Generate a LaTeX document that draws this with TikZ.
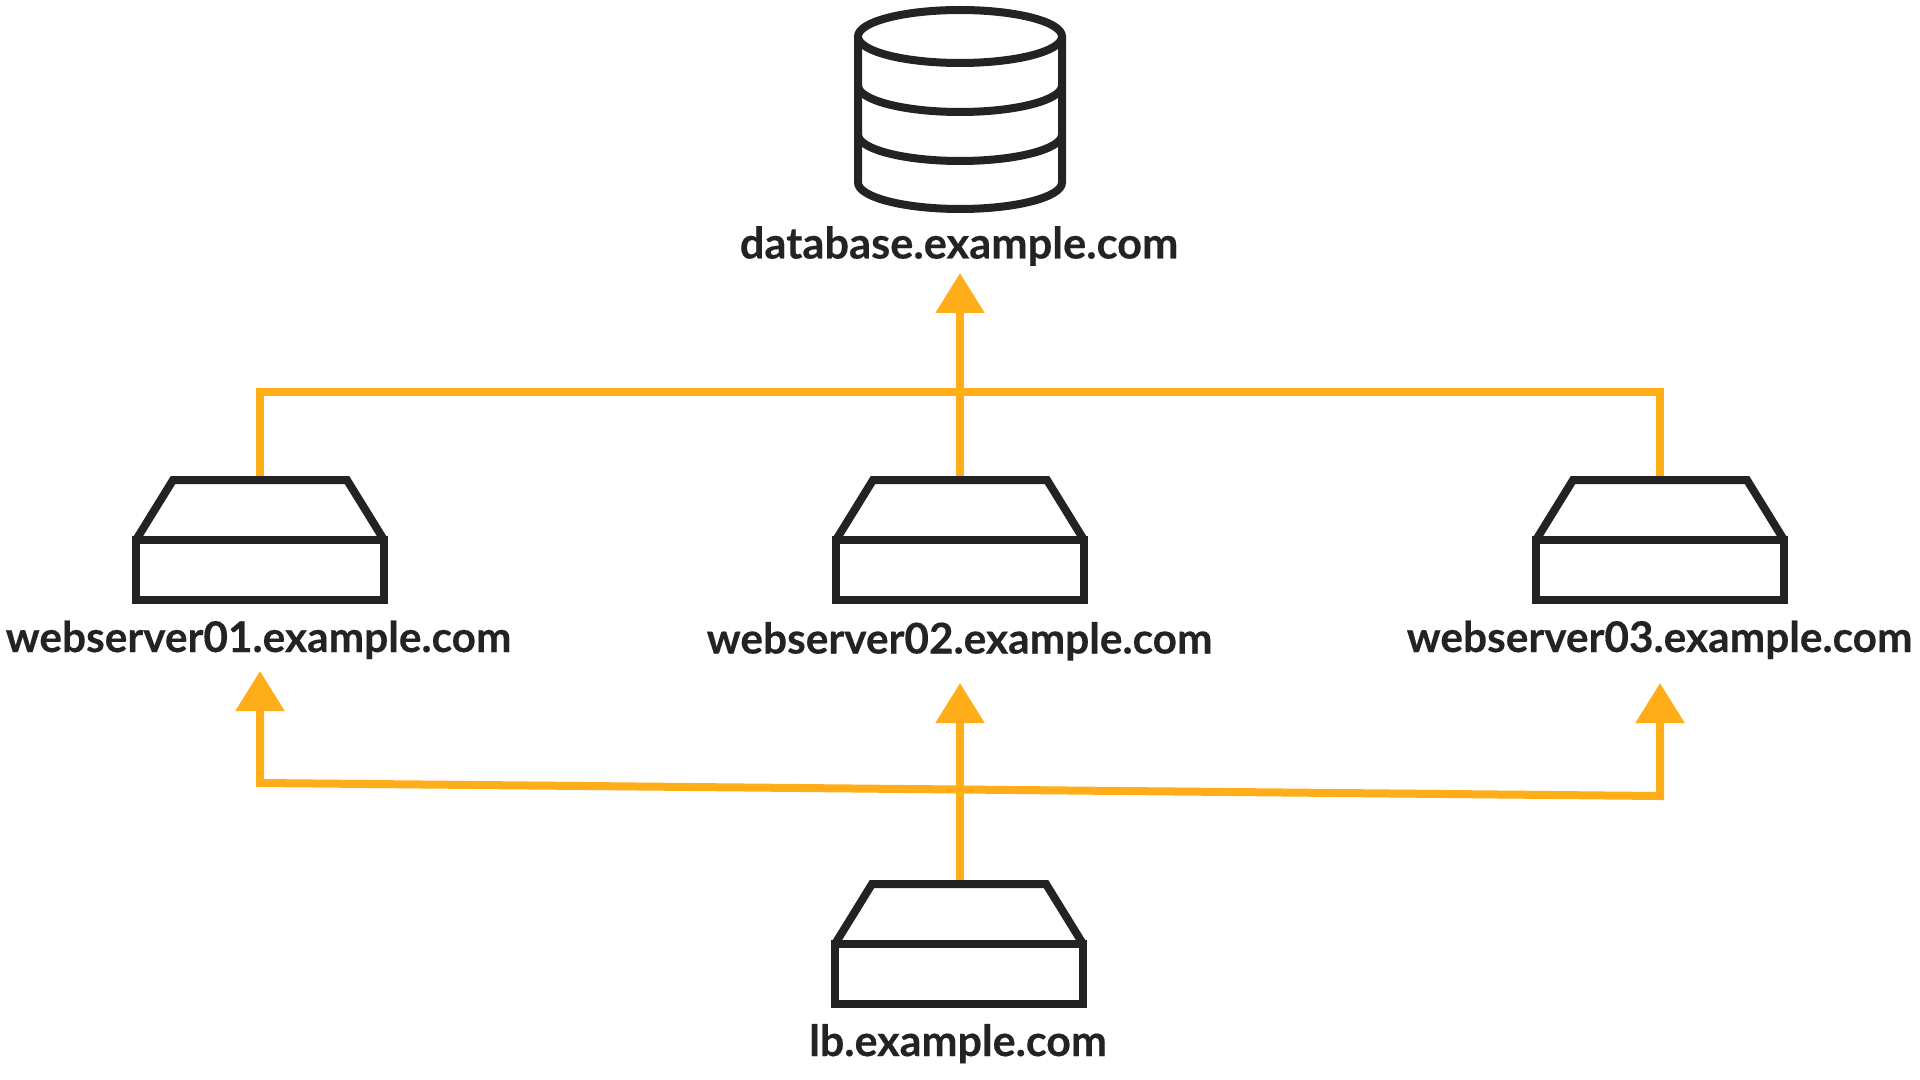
\documentclass[tikz,border=0pt]{standalone}
\usepackage{fontspec}
\setmainfont{Lato}[BoldFeatures={FakeBold=0.35}]
\usetikzlibrary{arrows.meta,shapes.geometric}
\definecolor{ink}{HTML}{232323}
\definecolor{amber}{HTML}{FFAD19}
\tikzset{
  inkline/.style={draw=ink,line width=4pt,line join=miter},
  boxbody/.style={inkline,fill=white,rectangle,minimum width=124pt,minimum height=30pt,inner sep=0pt},
  wire/.style={draw=amber,line width=4pt,line join=miter},
  wirearrow/.style={wire,-{Triangle[length=20pt,width=23.6pt,color=amber]}},
  wirearrows/.style={wire,{Triangle[length=20pt,width=23.6pt,color=amber]}-{Triangle[length=20pt,width=23.6pt,color=amber]}},
  hostlabel/.style={anchor=base,inner sep=0pt,text=ink,font=\fontsize{#1}{25pt}\selectfont\bfseries},
  hostlabel/.default=21.2pt
}
\newcommand{\hostbox}[3]{%
  \draw[inkline,fill=white] (#2-124,#3-30) -- (#2-87,#3-90) -- (#2+87,#3-90) -- (#2+124,#3-30);
  \node[boxbody] (#1) at (#2,#3) {};
  \coordinate (#1top) at (#2,#3-90);
}
\newcommand{\dbarc}[1]{(858,#1) .. controls (858,#1+14.6) and (904,#1+26.5) .. (960,#1+26.5) .. controls (1016,#1+26.5) and (1062,#1+14.6) .. (1062,#1)}
\begin{document}
\begin{tikzpicture}[x=0.5pt,y=-0.5pt]
\useasboundingbox[fill=white] (0,0) rectangle (1920,1080);
% named free ends
\coordinate (dbtip) at (960,273);
\coordinate (s1tip) at (260,671);
\coordinate (s2tip) at (960,683);
\coordinate (s3tip) at (1660,683);
\coordinate (busleft) at (260,392);
\coordinate (busmid) at (960,392);
\coordinate (busright) at (1660,392);
\coordinate (lbleft) at (260,783);
\coordinate (lbmid) at (960,789.5);
\coordinate (lbright) at (1660,796);
% connectors
\draw[wire] (260,480) -- (busleft) -- (busright) -- (1660,480);
\draw[wirearrow] (960,480) -- (busmid) -- (dbtip);
\draw[wirearrows] (s1tip) -- (lbleft) -- (lbright) -- (s3tip);
\draw[wirearrow] (960,884) -- (lbmid) -- (s2tip);
% database
\draw[inkline,fill=white] (858,36.5) -- (858,182.5) .. controls (858,197.1) and (904,209) .. (960,209) .. controls (1016,209) and (1062,197.1) .. (1062,182.5) -- (1062,36.5);
\draw[inkline] \dbarc{85.5};
\draw[inkline] \dbarc{134.5};
\node[inkline,fill=white,ellipse,minimum width=102pt,minimum height=26.5pt,inner sep=0pt] (db) at (960,36.5) {};
% servers
\hostbox{webA}{260}{570}
\hostbox{webB}{960}{570}
\hostbox{webC}{1660}{570}
\hostbox{lb}{959}{974}
% labels
\node[hostlabel=21.7pt] (dblabel) at (959,258.5) {database.example.com};
\node[hostlabel] (webAlabel) at (258.5,652) {webserver01.example.com};
\node[hostlabel] (webBlabel) at (959.5,653.5) {webserver02.example.com};
\node[hostlabel] (webClabel) at (1659.5,652) {webserver03.example.com};
\node[hostlabel=21.5pt] (lblabel) at (958,1056) {lb.example.com};
\end{tikzpicture}
\end{document}
